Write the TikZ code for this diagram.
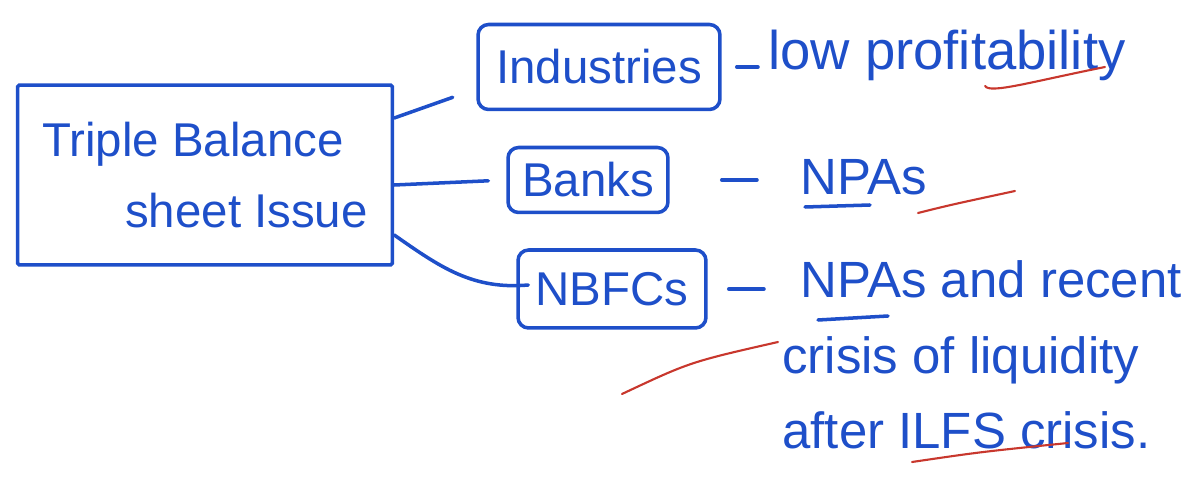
\documentclass[tikz,border=0pt]{standalone}
\usepackage{fontspec}
\setmainfont{Liberation Sans}
\usetikzlibrary{positioning}
\definecolor{ink}{HTML}{1E4FC9}
\definecolor{redmark}{HTML}{C8372D}

\begin{document}
\begin{tikzpicture}[x=0.02cm, y=-0.02cm,
    bx/.style={draw=ink, line width=2pt, rounded corners=6pt, inner sep=0pt,
               text=ink, font=\fontsize{27}{32}\selectfont},
    tx/.style={text=ink, anchor=west, align=left, inner sep=0pt,
               font=\fontsize{29}{43}\selectfont},
    ln/.style={ink, line width=2pt, line cap=round},
    rd/.style={redmark, line width=1.2pt, line cap=round}
  ]
  \useasboundingbox (0,0) rectangle (1201,486);

  % main box
  \node[bx, rounded corners=1pt, minimum width=7.5cm, minimum height=3.6cm, align=left,
        font=\fontsize{27}{40}\selectfont] (issue) at (205,175)
        {Triple Balance\\\hspace*{1.66cm}sheet Issue};

  % the three sectors
  \node[bx, minimum width=4.84cm, minimum height=1.7cm] (ind) at (599,67) {Industries};
  \node[bx, minimum width=3.2cm, minimum height=1.3cm] (banks) at (588,180) {Banks};
  \node[bx, minimum width=3.76cm, minimum height=1.56cm] (nbfc) at (612,289) {NBFCs};

  \draw[ln, shorten >=0.5cm] ([yshift=1.14cm]issue.east) -- ([yshift=-0.44cm]ind.west);
  \draw[ln, shorten >=0.36cm] ([yshift=-0.2cm]issue.east) -- (banks.west);
  \draw[ln] ([yshift=-1.2cm]issue.east) to[out=-35, in=185] ([xshift=0.24cm, yshift=0.08cm]nbfc.west);

  % what goes wrong in each
  \node[tx, font=\fontsize{31}{36}\selectfont] (low) at (768,55) {low profitability};
  \node[tx] (npa) at (800,177) {NPAs};
  \node[tx] (liq) at (782,355) {\hspace*{0.36cm}NPAs and recent\\crisis of liquidity\\after ILFS crisis.};

  \draw[ln, shorten <=0.3cm, shorten >=0.2cm] (ind.east) -- (ind.east -| low.west);
  \draw[ln, shorten <=1.04cm, shorten >=0.86cm] (banks.east) -- (banks.east -| npa.west);
  \draw[ln, shorten <=0.42cm, shorten >=0.36cm] (nbfc.east) -- (nbfc.east -| liq.west);

  % underlines
  \draw[ln] (805,207) -- (870,205);
  \draw[ln] (818,320) -- (888,316);

  % red ticks
  \draw[rd] (985,86) .. controls (990,94) and (1030,82) .. (1105,67);
  \draw[rd] (918,213) .. controls (950,205) .. (1015,191);
  \draw[rd] (622,394) .. controls (690,362) .. (778,342);
  \draw[rd] (912,462) .. controls (980,452) .. (1068,443);
\end{tikzpicture}
\end{document}
